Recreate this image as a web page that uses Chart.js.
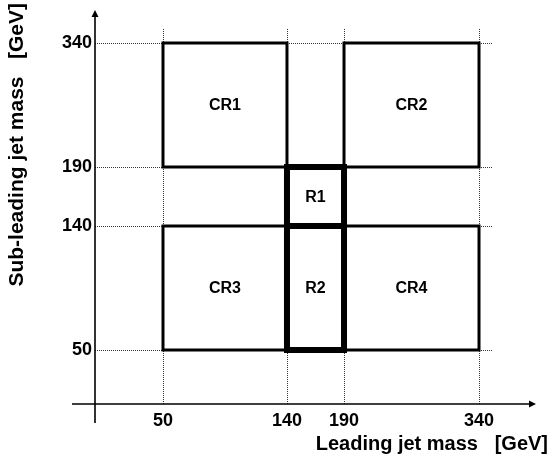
<!DOCTYPE html>
<html><head><meta charset="utf-8">
<script src="https://cdn.jsdelivr.net/npm/chart.js@4/dist/chart.umd.min.js"></script>
<style>html,body{margin:0;padding:0;background:#fff}canvas{display:block}</style>
</head><body>
<canvas id="c" width="551" height="466"></canvas>
<script>
const xTickValues = [50, 140, 190, 340];
const yTickValues = [50, 140, 190, 340];
const regionNames = ['R1', 'R2', 'CR1', 'CR2', 'CR3', 'CR4'];
const regionXLow  = [140, 140, 50, 190, 50, 190];
const regionXHigh = [190, 190, 140, 340, 140, 340];
const regionYLow  = [140, 50, 190, 190, 50, 50];
const regionYHigh = [190, 140, 340, 340, 140, 140];
const xTitle = 'Leading jet mass   [GeV]';
const yTitle = 'Sub-leading jet mass   [GeV]';

// axis layout: value breakpoints -> fraction of axis length (non-uniform schematic axis)
const WARP = {
  x: {v: [0, 50, 140, 190, 340, 420], f: [0, 0.1501, 0.4238, 0.5497, 0.8477, 1]},
  y: {v: [0, 50, 140, 190, 340, 390], f: [0, 0.1347, 0.4439, 0.5910, 0.9002, 1]}
};
function interp(xs, ys, t) {
  let i = 0;
  while (i < xs.length - 2 && t > xs[i + 1]) i++;
  const a = xs[i], b = xs[i + 1];
  return ys[i] + (ys[i + 1] - ys[i]) * (t - a) / (b - a);
}
class WarpScale extends Chart.LinearScale {
  static id = 'warp';
  static defaults = Chart.LinearScale.defaults;
  getPixelForValue(value) {
    const w = WARP[this.axis];
    return this.getPixelForDecimal(interp(w.v, w.f, value));
  }
  getValueForPixel(pixel) {
    const w = WARP[this.axis];
    return interp(w.f, w.v, this.getDecimalForPixel(pixel));
  }
}
Chart.register(WarpScale);

const FONT = "'Liberation Sans', Arial, Helvetica, sans-serif";

const datasets = regionNames.map((name, i) => {
  const isR = name.startsWith('R');
  return {
    label: name,
    data: [
      {x: regionXLow[i], y: regionYLow[i]},
      {x: regionXHigh[i], y: regionYLow[i]},
      {x: regionXHigh[i], y: regionYHigh[i]},
      {x: regionXLow[i], y: regionYHigh[i]},
      {x: regionXLow[i], y: regionYLow[i]}
    ],
    showLine: true,
    borderColor: '#000',
    backgroundColor: 'rgba(0,0,0,0)',
    borderWidth: isR ? 6 : 3,
    borderJoinStyle: 'miter',
    borderCapStyle: 'square',
    pointRadius: 0,
    tension: 0,
    fill: false,
    order: isR ? 0 : 1,
    clip: false
  };
});

const decor = {
  id: 'decor',
  beforeDatasetsDraw(chart) {
    const {ctx, scales: {x, y}} = chart;
    const x0 = Math.round(x.getPixelForValue(0));
    const y0 = Math.round(y.getPixelForValue(0));
    const gTop = y.getPixelForValue(yTickValues[yTickValues.length - 1]) - 15;
    const gRight = x.getPixelForValue(xTickValues[xTickValues.length - 1]) + 14;
    ctx.save();
    ctx.strokeStyle = '#333';
    ctx.lineWidth = 1;
    ctx.setLineDash([1, 1]);
    ctx.beginPath();
    xTickValues.forEach(v => {
      const px = Math.round(x.getPixelForValue(v)) + 0.5;
      ctx.moveTo(px, y0); ctx.lineTo(px, gTop);
    });
    yTickValues.forEach(v => {
      const py = Math.round(y.getPixelForValue(v)) + 0.5;
      ctx.moveTo(x0, py); ctx.lineTo(gRight, py);
    });
    ctx.stroke();
    ctx.setLineDash([]);
    // axes with arrows
    ctx.strokeStyle = '#000';
    ctx.fillStyle = '#000';
    ctx.lineWidth = 1.6;
    const xTip = x.right - 12, yTip = y.top + 7;
    ctx.beginPath();
    ctx.moveTo(x0 - 23, y0); ctx.lineTo(xTip - 5, y0);
    ctx.moveTo(x0, y0 + 19); ctx.lineTo(x0, yTip + 5);
    ctx.stroke();
    ctx.beginPath();
    ctx.moveTo(xTip, y0); ctx.lineTo(xTip - 7, y0 - 3.5); ctx.lineTo(xTip - 7, y0 + 3.5); ctx.closePath();
    ctx.moveTo(x0, yTip); ctx.lineTo(x0 - 3.5, yTip + 7); ctx.lineTo(x0 + 3.5, yTip + 7); ctx.closePath();
    ctx.fill();
    ctx.restore();
  },
  afterDatasetsDraw(chart) {
    const {ctx, scales: {x, y}} = chart;
    ctx.save();
    ctx.fillStyle = '#000';
    ctx.font = 'bold 16px ' + FONT;
    ctx.textAlign = 'center';
    ctx.textBaseline = 'middle';
    regionNames.forEach((name, i) => {
      const cx = (x.getPixelForValue(regionXLow[i]) + x.getPixelForValue(regionXHigh[i])) / 2;
      const cy = (y.getPixelForValue(regionYLow[i]) + y.getPixelForValue(regionYHigh[i])) / 2;
      ctx.fillText(name, cx, cy + 1);
    });
    ctx.restore();
  }
};

new Chart(document.getElementById('c'), {
  type: 'scatter',
  data: {datasets},
  options: {
    responsive: false,
    animation: false,
    devicePixelRatio: 1,
    layout: {padding: {left: 0, top: 3, right: 3, bottom: 0}},
    plugins: {legend: {display: false}, tooltip: {enabled: false}},
    scales: {
      x: {
        type: 'warp', min: 0, max: 420,
        afterBuildTicks: s => { s.ticks = xTickValues.map(v => ({value: v})); },
        afterFit: s => { s.height = 62; s.paddingLeft = 0; s.paddingRight = 0; },
        grid: {display: false, drawTicks: false},
        border: {display: false},
        ticks: {padding: 6, color: '#000', autoSkip: false, maxRotation: 0,
                font: {family: FONT, size: 18, weight: 'bold'}, callback: v => String(v)},
        title: {display: true, text: xTitle, align: 'end', color: '#000',
                font: {family: FONT, size: 20, weight: 'bold'}, padding: {top: 0, bottom: 10}}
      },
      y: {
        type: 'warp', min: 0, max: 390,
        afterBuildTicks: s => { s.ticks = yTickValues.map(v => ({value: v})); },
        afterFit: s => { s.width = 95; s.paddingTop = 0; s.paddingBottom = 0; },
        grid: {display: false, drawTicks: false},
        border: {display: false},
        ticks: {padding: 3, color: '#000', autoSkip: false,
                font: {family: FONT, size: 18, weight: 'bold'}, callback: v => String(v)},
        title: {display: true, text: yTitle, align: 'end', color: '#000',
                font: {family: FONT, size: 21, weight: 'bold'}, padding: {top: 5, bottom: 0}}
      }
    }
  },
  plugins: [decor]
});
</script>
</body></html>
